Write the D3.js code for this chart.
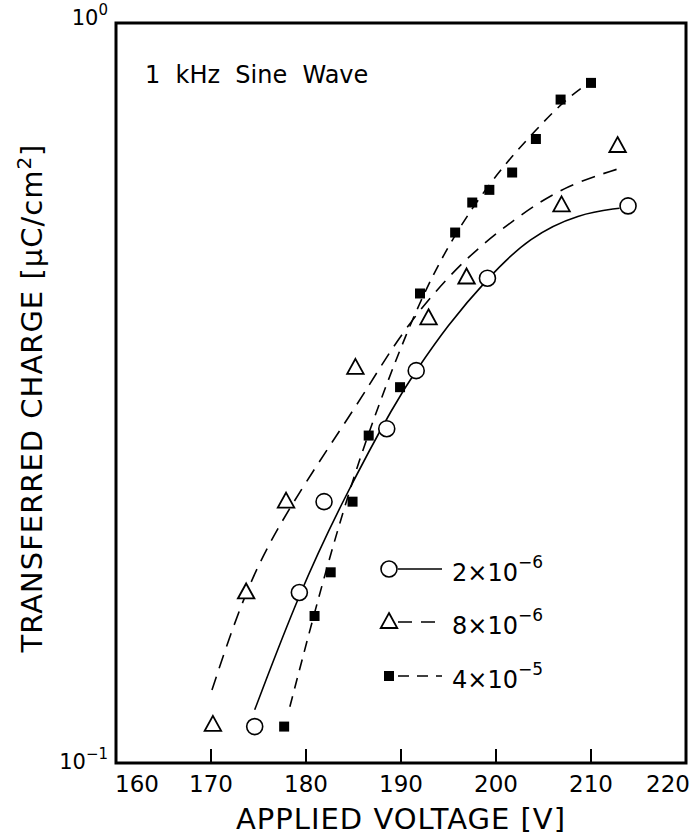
<!DOCTYPE html>
<html><head><meta charset="utf-8">
<script src="https://cdn.jsdelivr.net/npm/d3@7"></script>
<style>body{margin:0;background:#fff}text{font-family:"DejaVu Sans",sans-serif;fill:#000}</style>
</head><body><svg id="c" width="694" height="837"></svg>
<script>
// ---- data ----
const xTicks = [160,170,180,190,200,210,220];
const yTicks = [0.1, 1];
const yTickExp = ["\u22121", "0"];
const seriesNames = ["2\u00d710", "8\u00d710", "4\u00d710"];
const seriesExp = ["\u22126", "\u22126", "\u22125"];

const circV = [174.6,179.3,181.9,188.5,191.6,199.1,213.9];
const circQ = [0.112,0.170,0.2255,0.283,0.339,0.452,0.566];
const triV  = [170.2,173.7,177.9,185.2,192.9,196.9,206.9,212.8];
const triQ  = [0.1126,0.170,0.2255,0.342,0.399,0.453,0.567,0.682];
const sqV   = [177.7,180.9,182.6,184.9,186.6,189.9,192.0,195.7,197.5,199.3,201.7,204.2,206.8,210.0];
const sqQ   = [0.112,0.158,0.181,0.2255,0.277,0.322,0.431,0.521,0.572,0.595,0.628,0.697,0.788,0.830];

// fitted curves
const fitCircV = [174.6,179.3,183.9,189.5,191.6,194.8,199.1,203.5,208.8,213.0];
const fitCircQ = [0.118,0.170,0.227,0.309,0.339,0.389,0.452,0.514,0.553,0.562];
const fitTriV  = [170.1,173.7,178.0,185.7,187.8,191.3,196.5,201.8,207.0,213.0];
const fitTriQ  = [0.1255,0.173,0.220,0.309,0.343,0.401,0.478,0.542,0.601,0.636];
const fitSqV   = [178.3,180.0,182.2,184.6,186.7,189.0,192.0,195.0,198.0,201.0,204.0,207.4,210.2];
const fitSqQ   = [0.1191,0.1445,0.1841,0.2344,0.2818,0.3388,0.4217,0.5012,0.5754,0.6457,0.7129,0.7907,0.8375];

// ---- layout ----
const W = 694, H = 837;
const m = {l:116, r:8, t:23, b:74};
const svg = d3.select("#c");
const x = d3.scaleLinear().domain([160,220]).range([m.l, W-m.r]);
const y = d3.scaleLog().domain([0.1,1]).range([H-m.b, m.t]);

const zip = (a,b) => a.map((v,i)=>[v,b[i]]);
const line = d3.line().x(d=>x(d[0])).y(d=>y(d[1])).curve(d3.curveBasis);

// curves
svg.append("path").attr("d", line(zip(fitCircV,fitCircQ))).attr("fill","none").attr("stroke","#000").attr("stroke-width",1.6);
svg.append("path").attr("d", line(zip(fitTriV,fitTriQ))).attr("fill","none").attr("stroke","#000").attr("stroke-width",1.6).attr("stroke-dasharray","14,9");
svg.append("path").attr("d", line(zip(fitSqV,fitSqQ))).attr("fill","none").attr("stroke","#000").attr("stroke-width",1.6).attr("stroke-dasharray","11,8");

// markers
const triPath = s => `M0,${-s*0.6}L${s*0.55},${s*0.4}L${-s*0.55},${s*0.4}Z`;
svg.append("g").selectAll("circle").data(zip(circV,circQ)).join("circle")
  .attr("cx",d=>x(d[0])).attr("cy",d=>y(d[1])).attr("r",8)
  .attr("fill","#fff").attr("stroke","#000").attr("stroke-width",1.6);
svg.append("g").selectAll("path").data(zip(triV,triQ)).join("path")
  .attr("transform",d=>`translate(${x(d[0])},${y(d[1])})`).attr("d",triPath(15))
  .attr("fill","#fff").attr("stroke","#000").attr("stroke-width",1.8);
svg.append("g").selectAll("rect").data(zip(sqV,sqQ)).join("rect")
  .attr("x",d=>x(d[0])-5).attr("y",d=>y(d[1])-5).attr("width",10).attr("height",10)
  .attr("fill","#000");

// axes frame
svg.append("rect").attr("x",m.l).attr("y",m.t).attr("width",W-m.r-m.l).attr("height",H-m.b-m.t)
  .attr("fill","none").attr("stroke","#000").attr("stroke-width",3);

// x axis ticks (inside) and labels
const xa = svg.append("g");
xa.selectAll("line").data(xTicks.slice(1,-1)).join("line")
  .attr("x1",d=>x(d)).attr("x2",d=>x(d)).attr("y1",H-m.b).attr("y2",H-m.b-14)
  .attr("stroke","#000").attr("stroke-width",2);
xa.selectAll("text").data(xTicks).join("text")
  .attr("x",(d,i)=> i===0 ? x(d)-1 : i===xTicks.length-1 ? x(d)+4 : x(d))
  .attr("y",H-m.b+29)
  .attr("text-anchor",(d,i)=> i===0 ? "start" : i===xTicks.length-1 ? "end" : "middle")
  .attr("font-size",23).text(d=>d);

// y tick labels
const ya = svg.append("g");
yTicks.forEach((v,i)=>{
  const t = ya.append("text").attr("x",m.l-8).attr("y",y(v)+ (i===0?6:2)).attr("text-anchor","end").attr("font-size",21);
  t.append("tspan").text("10");
  t.append("tspan").attr("dy",-10).attr("font-size",15).text(yTickExp[i]);
});

// axis titles
svg.append("text").attr("x",(m.l+W-m.r)/2).attr("y",H-8).attr("text-anchor","middle")
  .attr("font-size",29).attr("letter-spacing",1).text("APPLIED VOLTAGE [V]");
const yt = svg.append("text").attr("transform",`translate(42,${(m.t+H-m.b)/2+5}) rotate(-90)`)
  .attr("text-anchor","middle").attr("font-size",29).attr("letter-spacing",1);
yt.append("tspan").text("TRANSFERRED CHARGE [\u03bcC/cm");
yt.append("tspan").attr("dy",-11).attr("font-size",20).text("2");
yt.append("tspan").attr("dy",11).text("]");

// annotation
svg.append("text").attr("x",145).attr("y",83).attr("font-size",24)
  .style("white-space","pre").text("1  kHz  Sine  Wave");

// legend
const lg = svg.append("g");
const legY = [569, 622, 676];
const dashes = [null, "14,9", "11,8"];
legY.forEach((ly,i)=>{
  lg.append("line").attr("x1",398).attr("x2",442).attr("y1",ly).attr("y2",ly)
    .attr("stroke","#000").attr("stroke-width",1.6).attr("stroke-dasharray",dashes[i]);
  if(i===0) lg.append("circle").attr("cx",389).attr("cy",ly).attr("r",8).attr("fill","#fff").attr("stroke","#000").attr("stroke-width",1.6);
  if(i===1) lg.append("path").attr("transform",`translate(389,${ly})`).attr("d",triPath(15)).attr("fill","#fff").attr("stroke","#000").attr("stroke-width",1.8);
  if(i===2) lg.append("rect").attr("x",384).attr("y",ly-5).attr("width",10).attr("height",10).attr("fill","#000");
  const t = lg.append("text").attr("x",452).attr("y",ly+12).attr("font-size",24);
  t.append("tspan").text(seriesNames[i]);
  t.append("tspan").attr("dy",-13).attr("font-size",17).text(seriesExp[i]);
});
</script></body></html>
